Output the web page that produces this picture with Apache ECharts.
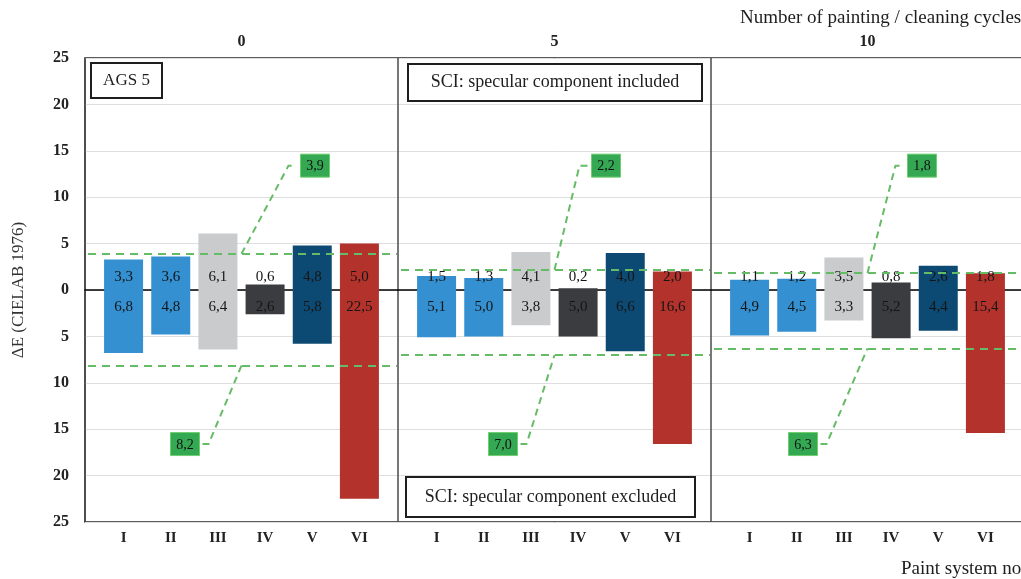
<!DOCTYPE html>
<html><head><meta charset="utf-8">
<script src="https://cdn.jsdelivr.net/npm/echarts@6/dist/echarts.min.js"></script>
<style>html,body{margin:0;padding:0;background:#fff;overflow:hidden;width:1021px;height:579px}#c{width:1032px;height:579px}</style>
</head><body><div id="c"></div>
<script>
// ---- data ----
const cycles = ['0', '5', '10'];
const paintSystems = ['I', 'II', 'III', 'IV', 'V', 'VI'];
const included0 = [3.3, 3.6, 6.1, 0.6, 4.8, 5.0];
const included5 = [1.5, 1.3, 4.1, 0.2, 4.0, 2.0];
const included10 = [1.1, 1.2, 3.5, 0.8, 2.6, 1.8];
const excluded0 = [6.8, 4.8, 6.4, 2.6, 5.8, 22.5];
const excluded5 = [5.1, 5.0, 3.8, 5.0, 6.6, 16.6];
const excluded10 = [4.9, 4.5, 3.3, 5.2, 4.4, 15.4];
const yMin = -25, yMax = 25, yStep = 5;

// ---- style / layout ----
const systemColors = ['#3490d0', '#3490d0', '#c9cbcd', '#3a3c3f', '#0d4a73', '#b3322b'];
const SERIF = '"Liberation Serif", "DejaVu Serif", serif';
const PLOT_LEFT = 85, PLOT_TOP = 58, PLOT_H = 464, PANEL_W = 313, BAR_PAD = 15;
const upperBoxOffset = [230, 208, 211];
const lowerBoxOffset = [100, 105, 92];
const UPPER_BOX_Y = 13.4, LOWER_BOX_Y = -16.6;
const GREEN_LINE = '#66bb66', GREEN_BOX = '#35a853';

const includedSets = [included0, included5, included10];
const excludedSets = [excluded0, excluded5, excluded10];
const mean = a => a.reduce((s, v) => s + v, 0) / a.length;
const fmt = v => (Math.round(Math.abs(v) * 10 + 1e-9) / 10).toFixed(1).replace('.', ',');

const grids = [{left: PLOT_LEFT, top: PLOT_TOP, width: PANEL_W * 3, height: PLOT_H,
  show: true, borderColor: '#262626', borderWidth: 1.5, backgroundColor: 'transparent'}];
const xAxes = [
  {gridIndex: 0, type: 'value', min: 0, max: 3, interval: 1,
   axisLine: {show: true, onZero: true, lineStyle: {color: '#000', width: 1.5}},
   axisTick: {show: false}, axisLabel: {show: false},
   splitLine: {show: true, lineStyle: {color: '#4a4a4a', width: 1.5}}},
  {gridIndex: 0, type: 'category', data: cycles, position: 'top',
   axisLine: {show: false}, axisTick: {show: false}, splitLine: {show: false},
   axisLabel: {margin: 8, fontFamily: SERIF, fontWeight: 'bold', fontSize: 16, color: '#222'}}
];
const yAxes = [
  {gridIndex: 0, type: 'value', min: yMin, max: yMax, interval: yStep,
   axisLine: {show: false}, axisTick: {show: false},
   axisLabel: {margin: 16, fontFamily: SERIF, fontWeight: 'bold', fontSize: 16, color: '#222',
     formatter: v => String(Math.abs(v))},
   splitLine: {show: true, lineStyle: {color: '#dedede', width: 1}},
   name: 'ΔE (CIELAB 1976)', nameLocation: 'middle', nameGap: 58, nameRotate: 90,
   nameTextStyle: {fontFamily: SERIF, fontSize: 17, color: '#333'}}
];
const series = [];
for (let p = 0; p < 3; p++) {
  const panelLeft = PLOT_LEFT + p * PANEL_W;
  grids.push({left: panelLeft + BAR_PAD, top: PLOT_TOP, width: PANEL_W - 2 * BAR_PAD, height: PLOT_H});
  xAxes.push({gridIndex: p + 1, type: 'category', data: paintSystems,
    axisLine: {show: false}, axisTick: {show: false},
    axisLabel: {margin: 9, fontFamily: SERIF, fontWeight: 'bold', fontSize: 15, color: '#222'}});
  yAxes.push({gridIndex: p + 1, type: 'value', min: yMin, max: yMax, interval: yStep, show: false,
    splitLine: {show: false}});
  const mU = mean(includedSets[p]), mL = mean(excludedSets[p]);
  const avgLine = v => ({silent: true, symbol: ['none', 'none'], label: {show: false},
    lineStyle: {color: GREEN_LINE, type: [8, 6], width: 2},
    data: [[{x: panelLeft + 3, yAxis: v}, {x: panelLeft + PANEL_W - 1, yAxis: v}]]});
  const common = {type: 'bar', xAxisIndex: p + 2, yAxisIndex: p + 1, stack: 'panel' + p,
    barWidth: 39, itemStyle: {color: params => systemColors[params.dataIndex]}};
  series.push(Object.assign({}, common, {
    data: includedSets[p],
    label: {show: true, position: 'insideBottom', distance: 5, fontFamily: SERIF, fontSize: 15,
      color: '#151515', formatter: prm => fmt(prm.value)},
    markLine: avgLine(mU)}));
  series.push(Object.assign({}, common, {
    data: excludedSets[p].map(v => -v),
    label: {show: true, position: 'insideTop', distance: 10, fontFamily: SERIF, fontSize: 15,
      color: '#151515', formatter: prm => fmt(prm.value)},
    markLine: avgLine(-mL)}));
}

const chart = echarts.init(document.getElementById('c'), null, {renderer: 'canvas'});
chart.setOption({
  animation: false, backgroundColor: '#ffffff',
  grid: grids, xAxis: xAxes, yAxis: yAxes, series: series
});

// ---- annotations ----
const yPix = v => chart.convertToPixel({yAxisIndex: 0}, v);
const g = [];
const textBox = (x, y, w, h, txt, fs) => {
  g.push({type: 'rect', shape: {x: x, y: y, width: w, height: h}, z: 20,
    style: {fill: '#fff', stroke: '#1e1e1e', lineWidth: 2}});
  g.push({type: 'text', x: x + w / 2, y: y + h / 2, z: 21,
    style: {text: txt, fontFamily: SERIF, fontSize: fs, fill: '#1e1e1e', align: 'center', verticalAlign: 'middle'}});
};
textBox(91, 63, 71, 35, 'AGS 5', 17);
textBox(408, 64, 294, 37, 'SCI: specular component included', 18);
textBox(406, 477, 289, 40, 'SCI: specular component excluded', 18);
g.push({type: 'text', x: 740, y: 18, z: 21, style: {text: 'Number of painting / cleaning cycles',
  fontFamily: SERIF, fontSize: 19, fill: '#1e1e1e', align: 'left', verticalAlign: 'middle'}});
g.push({type: 'text', x: 901, y: 569, z: 21, style: {text: 'Paint system no.',
  fontFamily: SERIF, fontSize: 19, fill: '#1e1e1e', align: 'left', verticalAlign: 'middle'}});
const BW = 29, BH = 23;
const greenBox = (cx, cy, txt) => {
  g.push({type: 'rect', shape: {x: cx - BW / 2, y: cy - BH / 2, width: BW, height: BH}, z: 20,
    style: {fill: GREEN_BOX, stroke: '#6fcf6f', lineWidth: 1}});
  g.push({type: 'text', x: cx, y: cy + 1, z: 21, style: {text: txt, fontFamily: SERIF, fontSize: 14,
    fill: '#111', align: 'center', verticalAlign: 'middle'}});
};
for (let p = 0; p < 3; p++) {
  const panelLeft = PLOT_LEFT + p * PANEL_W;
  const cx = panelLeft + PANEL_W / 2;
  const mU = mean(includedSets[p]), mL = mean(excludedSets[p]);
  const ux = panelLeft + upperBoxOffset[p], uy = yPix(UPPER_BOX_Y);
  const lx = panelLeft + lowerBoxOffset[p], ly = yPix(LOWER_BOX_Y);
  g.push({type: 'polyline', z: 19, shape: {points: [[cx, yPix(mU)], [ux - BW / 2 - 12, uy], [ux - BW / 2 - 4, uy]]},
    style: {stroke: GREEN_LINE, lineWidth: 2, lineDash: [7, 5], fill: null}});
  g.push({type: 'polyline', z: 19, shape: {points: [[lx + BW / 2 + 3, ly], [lx + BW / 2 + 9, ly], [cx, yPix(-mL)]]},
    style: {stroke: GREEN_LINE, lineWidth: 2, lineDash: [7, 5], fill: null}});
  greenBox(ux, uy, fmt(mU));
  greenBox(lx, ly, fmt(mL));
}
chart.setOption({graphic: g});
</script></body></html>
